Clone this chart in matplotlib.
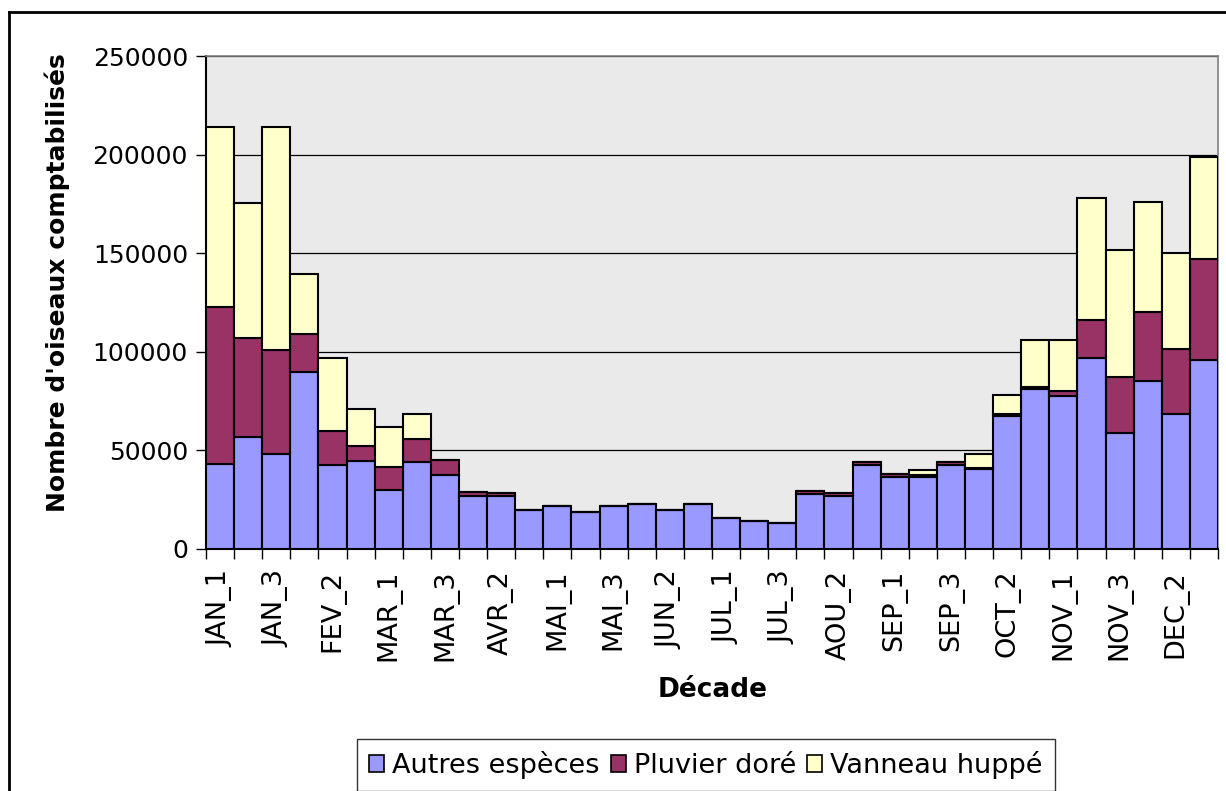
import matplotlib
matplotlib.use("Agg")
import matplotlib.pyplot as plt
import numpy as np
from matplotlib.lines import Line2D
from matplotlib.patches import Patch

categories = ["JAN_1", "JAN_2", "JAN_3", "FEV_1", "FEV_2", "FEV_3",
              "MAR_1", "MAR_2", "MAR_3", "AVR_1", "AVR_2", "AVR_3",
              "MAI_1", "MAI_2", "MAI_3", "JUN_1", "JUN_2", "JUN_3",
              "JUL_1", "JUL_2", "JUL_3", "AOU_1", "AOU_2", "AOU_3",
              "SEP_1", "SEP_2", "SEP_3", "OCT_1", "OCT_2", "OCT_3",
              "NOV_1", "NOV_2", "NOV_3", "DEC_1", "DEC_2", "DEC_3"]

autres = [43000, 57000, 48000, 90000, 42600, 44800, 30000, 44000, 37700,
          27000, 26900, 19800, 22000, 18600, 21800, 22800, 19800, 22800,
          15600, 14400, 13300, 27900, 26900, 42400, 36700, 36400, 42400,
          40700, 67300, 81100, 77700, 96700, 59000, 85400, 68300, 96000]

pluvier = [79900, 49900, 53100, 18900, 17200, 7600, 11700, 11800, 7400,
           2000, 1300, 0, 0, 0, 0, 0, 0, 0,
           0, 0, 0, 1500, 1300, 1700, 1400, 1200, 1700,
           500, 1200, 1200, 2500, 19400, 28400, 35000, 33000, 51100]

vanneau = [91000, 68800, 112800, 30800, 37200, 18500, 20300, 12700, 200,
           0, 0, 0, 0, 0, 0, 0, 0, 0,
           0, 0, 0, 0, 0, 0, 0, 2400, 0,
           7100, 9600, 23500, 25600, 61700, 64100, 55500, 48700, 51700]

series_names = ["Autres espèces", "Pluvier doré", "Vanneau huppé"]
colors = ["#9999FF", "#993366", "#FFFFCC"]

plt.rcParams['font.family'] = ['DejaVu Sans']

W, H = 1226, 791
fig = plt.figure(figsize=(W / 100, H / 100), dpi=100)
fig.patch.set_facecolor("white")

ax = fig.add_axes([206 / W, 1 - 549 / H, (1218 - 206) / W, (549 - 56) / H])
ax.set_facecolor("#EAEAEA")

x = np.arange(len(categories))
a = np.array(autres)
p = np.array(pluvier)
v = np.array(vanneau)
ax.bar(x, a, width=1.0, color=colors[0], edgecolor="black", linewidth=1.5, zorder=3)
ax.bar(x, p, width=1.0, bottom=a, color=colors[1], edgecolor="black", linewidth=1.5, zorder=3)
ax.bar(x, v, width=1.0, bottom=a + p, color=colors[2], edgecolor="black", linewidth=1.5, zorder=3)

ax.set_xlim(-0.5, len(categories) - 0.5)
ax.set_ylim(0, 250000)
ax.set_yticks(np.arange(0, 250001, 50000))
ax.set_yticklabels([str(t) for t in range(0, 250001, 50000)], fontsize=18)
ax.yaxis.grid(True, color="black", linewidth=0.9, zorder=1)
ax.set_axisbelow(True)

ax.set_xticks(x[::2])
ax.set_xticklabels(categories[::2], rotation=90, fontsize=19.5)
ax.set_xticks(np.arange(-0.5, len(categories), 1.0), minor=True)
ax.tick_params(axis="x", which="major", length=0, pad=15)
ax.tick_params(axis="x", which="minor", length=7, width=1, color="black", direction="out")
ax.tick_params(axis="y", which="major", length=7, width=1, direction="out", pad=6)

for s in ["top", "right"]:
    ax.spines[s].set_color("#808080")
    ax.spines[s].set_linewidth(1.2)
for s in ["left", "bottom"]:
    ax.spines[s].set_color("black")
    ax.spines[s].set_linewidth(1.5)

fig.text(57 / W, 1 - 283 / H, "Nombre d'oiseaux comptabilisés", rotation=90,
         ha="center", va="center", fontsize=18, fontweight="bold")
fig.text(713 / W, 1 - 690 / H, "Décade", ha="center", va="center",
         fontsize=19, fontweight="bold")

handles = [Patch(facecolor=c, edgecolor="black", linewidth=1.2) for c in colors]
leg = fig.legend(handles, series_names, loc="upper center",
                 bbox_to_anchor=(706 / W, 1 - 739 / H), ncol=3, fontsize=19.5,
                 frameon=True, fancybox=False, edgecolor="black",
                 handlelength=0.55, handleheight=0.55, handletextpad=0.3,
                 columnspacing=0.4, borderpad=0.45, borderaxespad=0)
leg.get_frame().set_linewidth(1.0)

# outer chart border
fig.add_artist(Line2D([9 / W, 9 / W], [0, 1 - 12 / H], transform=fig.transFigure,
                      color="black", linewidth=2))
fig.add_artist(Line2D([9 / W, 1], [1 - 12 / H, 1 - 12 / H], transform=fig.transFigure,
                      color="black", linewidth=2))

fig.savefig("out.png", dpi=100)
